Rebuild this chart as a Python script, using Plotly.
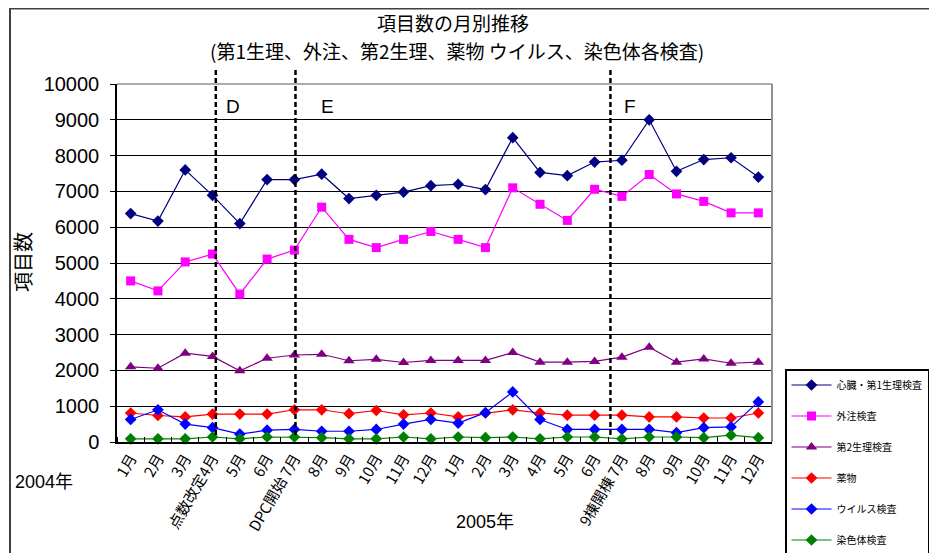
import plotly.graph_objects as go

months = ["1月", "2月", "3月", "点数改定4月", "5月", "6月", "DPC開始 7月", "8月", "9月", "10月", "11月", "12月",
          "1月", "2月", "3月", "4月", "5月", "6月", "9棟開棟 7月", "8月", "9月", "10月", "11月", "12月"]

s_heart = [6380, 6170, 7600, 6890, 6100, 7330, 7330, 7480, 6800, 6890, 6980, 7160,
           7200, 7050, 8500, 7530, 7440, 7820, 7870, 9000, 7560, 7890, 7940, 7400]
s_outs = [4500, 4220, 5030, 5250, 4130, 5110, 5360, 6560, 5660, 5430, 5660, 5880,
          5660, 5430, 7100, 6640, 6190, 7060, 6860, 7470, 6930, 6720, 6400, 6400]
s_phys2 = [2100, 2060, 2480, 2390, 1990, 2340, 2430, 2450, 2270, 2310, 2220, 2280,
           2280, 2280, 2500, 2230, 2230, 2250, 2370, 2650, 2230, 2320, 2200, 2230]
s_drug = [810, 740, 700, 780, 780, 780, 900, 900, 790, 880, 760, 810,
          700, 810, 900, 810, 750, 750, 750, 700, 700, 670, 670, 810]
s_virus = [630, 900, 500, 400, 220, 330, 350, 300, 300, 350, 500, 630,
           530, 820, 1400, 630, 350, 350, 350, 350, 260, 400, 420, 1120]
s_chrom = [90, 90, 90, 140, 90, 140, 140, 120, 90, 90, 140, 90,
           140, 120, 140, 90, 140, 140, 90, 140, 140, 120, 190, 120]

series_names = ["心臓・第1生理検査", "外注検査", "第2生理検査", "薬物", "ウイルス検査", "染色体検査"]
series_vals = [s_heart, s_outs, s_phys2, s_drug, s_virus, s_chrom]
colors = ["#000080", "#FF00FF", "#800080", "#FF0000", "#0000FF", "#008000"]
symbols = ["diamond", "square", "triangle-up", "diamond", "diamond", "diamond"]
sizes = [9, 9, 10, 9, 9, 9]

title_lines = ["項目数の月別推移", "(第1生理、外注、第2生理、薬物 ウイルス、染色体各検査)"]
yticks = list(range(0, 10001, 1000))
yticktext = [str(v) for v in yticks]
markers_x = [3.12, 6.04, 17.58]
marker_labels = ["D", "E", "F"]
marker_label_x = [3.75, 7.2, 18.3]

xs = list(range(len(months)))
FONT = "Liberation Sans, Arial, Noto Sans CJK JP, sans-serif"
JFONT = "Noto Sans CJK JP, sans-serif"

fig = go.Figure()
for i, (nm, vals) in enumerate(zip(series_names, series_vals)):
    fig.add_trace(go.Scatter(
        x=xs, y=vals, name=nm, mode="lines+markers", legendgroup=str(i),
        line=dict(color=colors[i], width=1.2),
        marker=dict(symbol=symbols[i], size=sizes[i], color=colors[i]),
        cliponaxis=False,
    ))

# page offset from default body margin
OX, OY = 8, 8
W, H = 937 - OX, 553 - OY
PL, PR, PT, PB = 117, 772, 84, 442  # plot area in page pixels
L, T = PL - OX, PT - OY
R, B = W - (PR - OX), H - (PB - OY)
pw, ph = W - L - R, H - T - B

def px2paper(px, py):
    return (px - PL) / pw, (PB - py) / ph

def xdata2paper(xv):
    return (xv + 0.5) / 24.0

shapes = []
fx0, fy1 = px2paper(10, 8.5)
shapes.append(dict(type="rect", xref="paper", yref="paper", x0=fx0, x1=1.5, y0=-0.5, y1=fy1,
                   line=dict(color="#404040", width=2), fillcolor="rgba(0,0,0,0)", layer="below"))
shapes.append(dict(type="line", xref="paper", yref="paper", x0=0, x1=1, y0=1, y1=1,
                   line=dict(color="#909090", width=1.5), layer="above"))
shapes.append(dict(type="line", xref="paper", yref="paper", x0=1, x1=1, y0=0, y1=1,
                   line=dict(color="#909090", width=2), layer="above"))
ytop = px2paper(0, 70)[1]
ybot = px2paper(0, 435)[1]
for xv in markers_x:
    xp = xdata2paper(xv)
    shapes.append(dict(type="line", xref="paper", yref="paper", x0=xp, x1=xp, y0=ybot, y1=ytop,
                       line=dict(color="black", width=2.5, dash="5px,3px"), layer="above"))

annotations = []
for lbl, xv in zip(marker_labels, marker_label_x):
    annotations.append(dict(text=lbl, xref="paper", yref="paper", x=xdata2paper(xv), y=px2paper(0, 106)[1],
                            showarrow=False, font=dict(size=19, color="black", family=FONT),
                            xanchor="center", yanchor="middle"))
for txt, cx, cy in zip(title_lines, [453, 457], [22, 50]):
    annotations.append(dict(text=txt, xref="paper", yref="paper", borderpad=0,
                            x=px2paper(cx, 0)[0], y=px2paper(0, cy)[1], showarrow=False,
                            font=dict(size=19, color="black", family=JFONT), xanchor="center", yanchor="middle"))
annotations.append(dict(text="項目数", xref="paper", yref="paper", textangle=-90,
                        x=px2paper(22, 0)[0], y=px2paper(0, 262)[1], showarrow=False,
                        font=dict(size=20, color="black", family=JFONT), xanchor="center", yanchor="middle"))
annotations.append(dict(text="2004年", xref="paper", yref="paper",
                        x=px2paper(44, 0)[0], y=px2paper(0, 482)[1], showarrow=False,
                        font=dict(size=18, color="black", family=FONT), xanchor="center", yanchor="middle"))
annotations.append(dict(text="2005年", xref="paper", yref="paper",
                        x=px2paper(485, 0)[0], y=px2paper(0, 522)[1], showarrow=False,
                        font=dict(size=18, color="black", family=FONT), xanchor="center", yanchor="middle"))

lx, ly = px2paper(785, 369)
fig.update_layout(
    width=W, height=H,
    margin=dict(l=L, r=R, t=T, b=B, autoexpand=False),
    paper_bgcolor="white", plot_bgcolor="white",
    showlegend=True,
    legend=dict(x=lx, y=ly, xanchor="left", yanchor="top", bgcolor="white",
                bordercolor="black", borderwidth=1.5, tracegroupgap=12,
                font=dict(size=10, color="black", family=JFONT), itemwidth=40),
    xaxis=dict(range=[-0.5, 23.5], tickmode="array", tickvals=xs, ticktext=months,
               tickangle=-60, ticks="", showgrid=False, zeroline=False,
               showline=True, linecolor="black", linewidth=1.5,
               tickfont=dict(size=15, color="black", family=JFONT),
               minor=dict(tickmode="array", tickvals=[v - 0.5 for v in xs] + [23.5],
                          ticks="inside", ticklen=5, tickcolor="black", tickwidth=1, showgrid=False)),
    yaxis=dict(range=[0, 10000], tickmode="array", tickvals=yticks, ticktext=yticktext,
               ticks="outside", ticklen=5, tickcolor="black",
               showgrid=True, gridcolor="black", gridwidth=1.3, zeroline=False,
               showline=True, linecolor="black", linewidth=1.5,
               tickfont=dict(size=20, color="black", family=FONT), ticklabelstandoff=7),
    shapes=shapes, annotations=annotations,
)
fig.write_html("out.html")
